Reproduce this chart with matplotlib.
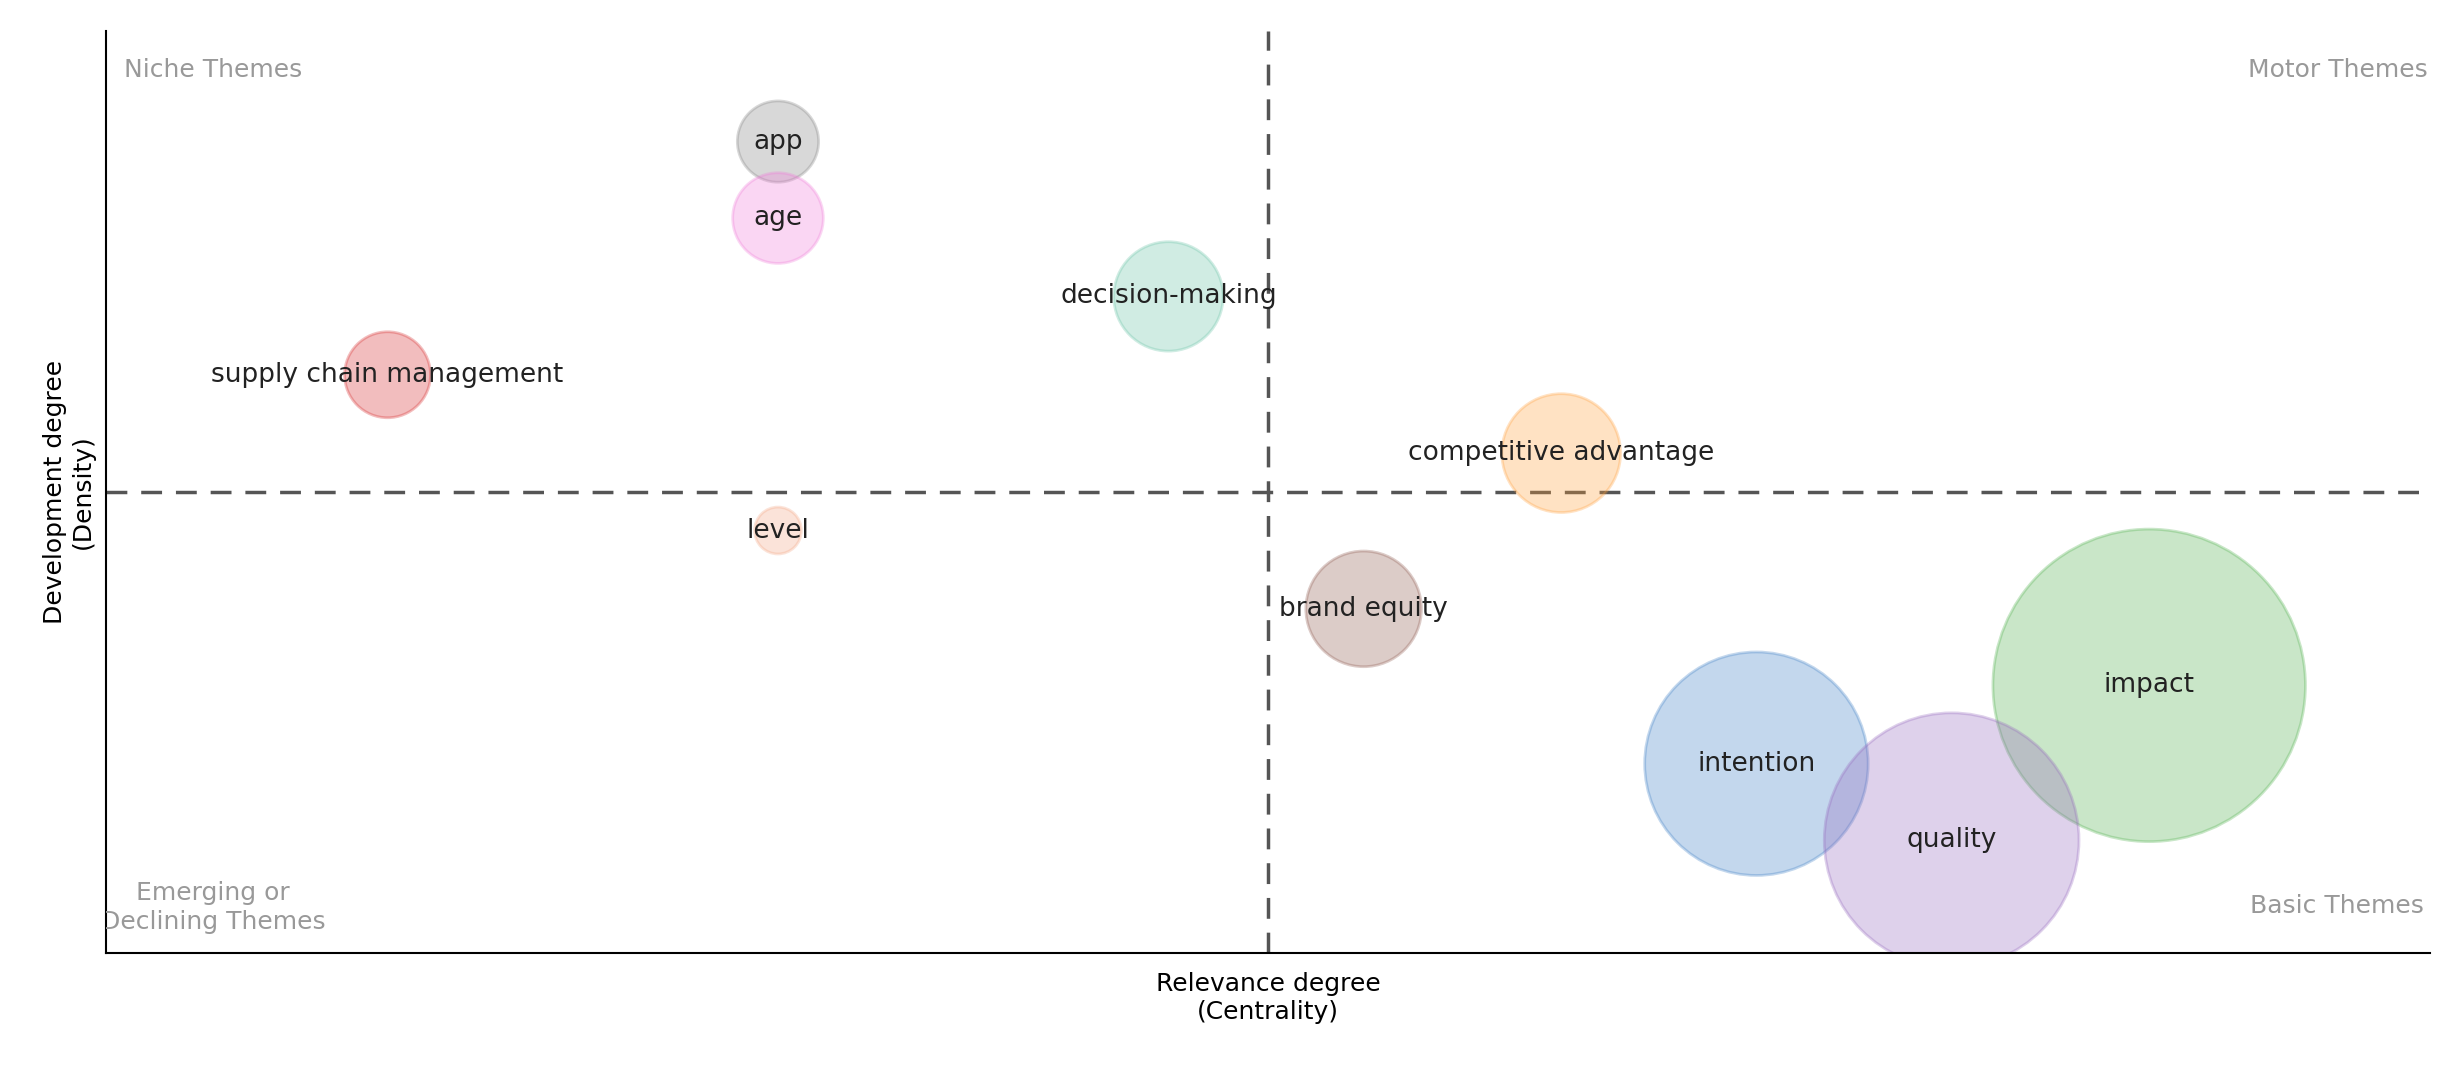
import matplotlib.pyplot as plt

# themes: centrality (x), density (y), bubble size
labels = ["app", "age", "decision-making", "supply chain management", "competitive advantage",
          "level", "brand equity", "impact", "intention", "quality"]
centrality = [0.289, 0.289, 0.457, 0.121, 0.626, 0.289, 0.541, 0.879, 0.710, 0.794]
density = [0.880, 0.797, 0.712, 0.627, 0.542, 0.458, 0.373, 0.290, 0.205, 0.122]
size = [52, 58, 70, 55, 76, 30, 74, 200, 143, 163]
colors = ["#7f7f7f", "#f07ad8", "#66c2a5", "#d62728", "#ff9f3a",
          "#f4a582", "#8c564b", "#4daf4a", "#3b7dc4", "#9467bd"]

fig = plt.figure(figsize=(24.5, 10.68), dpi=100)
ax = fig.add_axes([0.0434, 0.108, 0.9486, 0.863])

s = [(d * 1.125) ** 2 for d in size]
ax.scatter(centrality, density, s=s, c=colors, alpha=0.3, edgecolors=colors, linewidths=2, zorder=2)
for x, y, t in zip(centrality, density, labels):
    ax.text(x, y, t, ha="center", va="center", fontsize=19, color="#222222", zorder=3)

ax.axvline(0.5, color="#555555", ls=(0, (6, 4)), lw=2.5, zorder=1)
ax.axhline(0.5, color="#555555", ls=(0, (6, 4)), lw=2.5, zorder=1)

ax.set_xlim(0, 1)
ax.set_ylim(0, 1)
ax.set_xticks([])
ax.set_yticks([])
for sp in ["top", "right"]:
    ax.spines[sp].set_visible(False)
ax.spines["left"].set_linewidth(1.5)
ax.spines["bottom"].set_linewidth(1.5)

qc = "#999999"
ax.text(0.046, 0.958, "Niche Themes", ha="center", va="center", fontsize=18, color=qc, clip_on=True)
ax.text(0.999, 0.958, "Motor Themes", ha="right", va="center", fontsize=18, color=qc)
ax.text(0.046, 0.049, "Emerging or\nDeclining Themes", ha="center", va="center", fontsize=18,
        color=qc, clip_on=True, linespacing=1.3)
ax.text(0.997, 0.051, "Basic Themes", ha="right", va="center", fontsize=18, color=qc)

ax.set_xlabel("Relevance degree\n(Centrality)", fontsize=18, labelpad=14)
ax.set_ylabel("Development degree\n(Density)", fontsize=18, labelpad=8)

fig.savefig("out.png", dpi=100)
